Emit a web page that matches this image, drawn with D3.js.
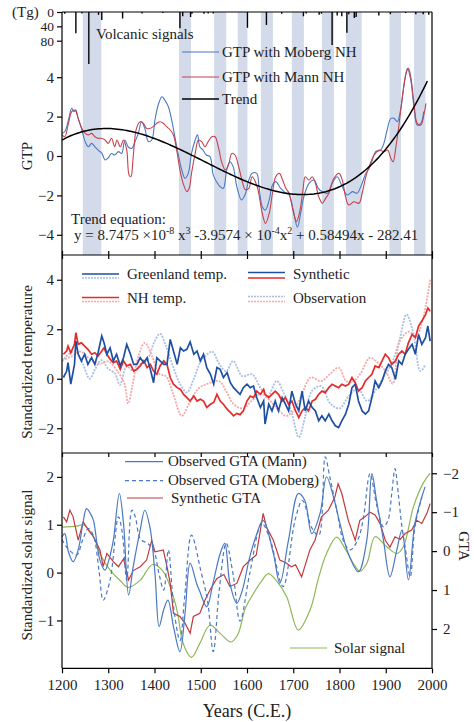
<!DOCTYPE html>
<html><head><meta charset="utf-8">
<script src="https://cdn.jsdelivr.net/npm/d3@7"></script>
<style>
html,body{margin:0;padding:0;background:#fff;}
svg text{font-family:"Liberation Serif","Times New Roman",Times,serif;fill:#222;}
</style></head>
<body><svg id="c" width="474" height="722"></svg>
<script>
// ---------------- DATA ----------------
// Top panel: volcanic loading (Tg)
const volcYears = [1206,1230,1243,1258,1279,1286,1331,1373,1418,1455,1461,1478,1481,1507,1516,1527,1601,1642,1675,1722,1728,1756,1761,1784,1795,1805,1816,1820,1832,1836,1885,1910,1943,1965,1981,1993];
const volcLoad  = [5,59,4,145,8,22,18,4,3,45,12,14,5,5,4,4,44,36,5,12,4,8,5,92,10,12,58,6,17,14,10,6,3,6,6,8];
// shaded periods
const bandStart = [1245,1453,1529,1580,1630,1697,1762,1814,1908,1961];
const bandEnd   = [1285,1479,1555,1601,1656,1723,1788,1848,1933,1986];
// GTP with Moberg NH
const mobYears = [1200,1206,1214,1221,1226,1230,1235,1243,1250,1257,1264,1271,1278,1286,1293,1300,1307,1314,1322,1329,1336,1343,1351,1358,1365,1372,1379,1387,1394,1401,1408,1416,1422,1430,1437,1444,1451,1459,1466,1473,1480,1488,1493,1498,1505,1512,1520,1527,1534,1542,1549,1556,1563,1570,1578,1588,1596,1604,1611,1621,1626,1633,1640,1648,1655,1662,1673,1684,1691,1700,1709,1716,1723,1734,1745,1754,1763,1774,1784,1795,1806,1817,1828,1838,1846,1857,1864,1871,1878,1889,1896,1903,1911,1918,1925,1932,1939,1947,1954,1961,1968,1976,1982];
const mobGTP   = [1.15,1.23,1.83,2.42,2.25,2.33,1.91,1.32,0.73,0.47,0.64,0.47,0.30,0.15,-0.2,-0.1,0.13,0.05,0.22,0.13,0.81,0.47,0.39,0.73,1.15,1.74,1.40,0.73,0.81,1.83,2.59,3.01,2.85,2.50,1.83,0.98,0.13,-0.71,-1.13,-0.88,0.13,0.81,1.07,0.47,0.30,0.05,-0.03,-0.96,-1.30,-1.56,-1.64,-0.71,-0.29,-0.54,-1.56,-2.23,-1.95,-1.22,-0.88,-0.88,-1.56,-2.57,-2.74,-2.23,-1.47,-1.30,-1.64,-1.89,-1.98,-2.74,-3.62,-2.91,-2.06,-1.39,-1.22,-1.64,-1.81,-1.89,-1.39,-1.05,-1.56,-1.98,-1.81,-1.89,-1.56,-0.88,-0.63,-0.20,0.22,0.30,0.64,1.32,1.91,1.91,1.74,2.33,3.52,4.45,3.86,2.50,1.57,1.66,2.25];
// GTP with Mann NH
const manYears = [1200,1206,1214,1221,1228,1235,1243,1250,1257,1264,1271,1278,1286,1293,1300,1307,1314,1319,1326,1333,1340,1345,1349,1354,1361,1369,1376,1383,1390,1397,1405,1412,1419,1426,1434,1441,1448,1455,1462,1470,1475,1480,1488,1495,1502,1509,1516,1524,1531,1538,1545,1553,1560,1567,1574,1582,1589,1596,1604,1611,1622,1633,1640,1648,1655,1662,1670,1677,1684,1691,1700,1707,1714,1721,1726,1734,1741,1748,1755,1763,1770,1777,1788,1799,1806,1813,1820,1831,1842,1849,1857,1864,1875,1886,1896,1904,1911,1916,1922,1929,1936,1944,1949,1954,1961,1968,1976,1983,1987];
const manGTP   = [1.07,0.98,1.66,2.25,2.33,1.91,1.40,1.15,1.07,1.15,0.98,0.90,0.90,0.81,0.64,0.90,0.47,0.81,0.47,0.81,0.30,-0.96,-1.05,-0.03,1.40,1.74,1.66,1.40,1.40,1.49,1.66,1.74,1.66,1.49,1.32,1.07,0.30,-0.71,-1.39,-1.81,-1.64,-0.88,0.13,0.81,0.73,0.47,0.73,0.98,0.98,0.47,-0.29,-0.71,-0.46,0.13,0.05,-0.54,-1.22,-1.70,-1.64,-1.05,-1.56,-2.91,-3.42,-2.91,-1.89,-1.05,-0.88,-1.22,-1.64,-1.89,-2.83,-3.33,-2.83,-1.72,-1.05,-1.22,-1.05,-1.39,-2.06,-2.40,-2.15,-1.89,-1.13,-0.88,-1.22,-2.06,-2.49,-2.32,-2.40,-1.89,-1.05,-0.54,0.05,0.30,0.22,0.30,-0.12,-0.29,0.47,1.66,3.01,4.20,4.45,4.03,2.67,1.66,1.57,2.16,2.67];
// Trend polynomial coefficients (as printed): a3, a2, a1, a0
const trendCoefs = [8.7475e-8, -3.9574e-4, 0.58494, -282.41];
const trendRange = [1200, 1990];
const gtpTicks = [4, 2, 0, -2, -4];
const volcTicks = [0, 40, 80];

// Middle panel: standardized temperature
const synYears = [1203,1210,1213,1219,1227,1230,1235,1242,1249,1256,1264,1271,1278,1286,1291,1297,1304,1311,1318,1326,1333,1340,1348,1355,1362,1369,1377,1384,1391,1398,1405,1412,1420,1427,1434,1441,1449,1456,1463,1470,1477,1485,1492,1499,1506,1513,1521,1528,1535,1542,1549,1557,1564,1571,1578,1585,1592,1600,1607,1614,1621,1629,1636,1639,1647,1654,1661,1668,1676,1683,1690,1697,1705,1712,1719,1726,1733,1741,1748,1755,1762,1769,1777,1784,1791,1798,1805,1813,1820,1827,1834,1841,1849,1856,1863,1870,1877,1885,1892,1899,1906,1913,1921,1928,1935,1942,1949,1957,1964,1971,1978,1986,1991,1996];
const grlSyn = [0.05,0.30,0.65,-0.22,0.58,1.52,0.99,0.72,0.99,0.58,0.85,0.58,1.05,1.73,1.45,0.99,1.25,0.72,0.99,0.52,0.85,1.39,0.99,0.58,0.58,0.85,0.65,0.85,0.38,-0.16,0.85,0.72,0.58,0.58,1.59,1.12,0.58,1.25,1.12,1.19,1.49,0.99,1.12,0.72,0.99,0.45,0.18,-0.22,0.45,0.38,0.05,0.25,-0.16,-0.36,-0.50,-0.63,-0.36,-0.22,-0.36,-0.29,-0.76,-1.16,-0.90,-1.83,-1.03,-1.30,-0.90,-1.30,-0.76,-1.03,-1.30,-0.50,-1.03,-1.30,-0.50,-1.30,-0.90,-1.16,-1.30,-1.70,-1.50,-1.70,-1.43,-1.70,-1.90,-1.97,-1.70,-1.43,-1.03,-0.36,-0.22,-0.90,-1.30,-1.43,-1.30,-0.76,-0.09,-0.36,-0.09,0.31,0.58,0.45,-0.02,0.72,0.58,0.99,1.19,1.39,0.99,1.79,1.39,1.66,2.13,1.52];
const nhSyn  = [0.99,1.12,1.32,1.05,1.39,1.86,1.39,1.45,1.32,1.19,0.99,1.05,0.92,1.12,1.25,0.99,0.79,0.65,0.72,0.38,0.72,0.52,0.58,0.31,0.38,0.52,0.72,0.45,0.58,0.31,0.18,0.52,0.72,0.58,0.05,-0.22,-0.36,-0.43,-0.63,-0.76,-0.90,-0.70,-0.90,-0.83,-0.90,-1.16,-1.03,-0.96,-0.63,-0.90,-1.03,-1.23,-1.36,-1.50,-1.40,-1.45,-1.30,-0.90,-0.70,-0.76,-0.50,-0.63,-0.43,-0.63,-0.76,-0.63,-0.50,-0.63,-0.90,-0.76,-1.03,-0.90,-1.30,-1.57,-1.30,-1.16,-1.30,-0.90,-0.83,-0.63,-0.50,-0.56,-0.36,-0.22,-0.29,-0.36,-0.22,-0.29,-0.22,0.05,-0.16,-0.50,-0.36,-0.09,0.05,0.18,0.52,0.45,0.72,0.99,0.85,0.58,0.72,0.99,1.12,0.99,1.45,1.79,1.66,2.13,2.33,2.59,2.86,2.73];
const grlObsYears = [1200,1215,1230,1245,1260,1272,1285,1300,1315,1325,1340,1355,1370,1385,1400,1412,1425,1440,1455,1470,1485,1500,1515,1525,1540,1555,1570,1590,1611,1630,1645,1664,1680,1697,1712,1725,1740,1760,1780,1800,1820,1840,1860,1880,1900,1915,1930,1945,1960,1975,1986];
const grlObs = [0.70,1.00,1.10,0.60,0.00,0.40,0.75,0.40,0.20,-0.25,0.50,0.30,0.60,0.80,1.50,1.82,1.30,0.50,-0.20,-0.55,0.00,0.70,1.00,1.10,0.60,0.30,0.72,0.10,0.18,-0.40,-0.70,-0.09,-0.60,-1.40,-2.37,-1.60,-0.50,-0.30,-1.00,-1.20,-0.70,-0.40,-0.90,-0.40,0.20,0.70,1.60,2.60,1.80,0.31,0.58];
const nhObsYears = [1200,1220,1240,1260,1280,1300,1320,1335,1343,1352,1365,1379,1395,1410,1425,1440,1459,1475,1495,1515,1540,1555,1570,1590,1610,1630,1650,1670,1685,1700,1715,1738,1760,1780,1798,1815,1830,1845,1866,1885,1900,1915,1930,1950,1965,1980,1996];
const nhObs = [0.75,0.90,1.10,0.80,0.60,0.70,0.30,-0.20,-1.00,-0.30,0.90,1.45,0.90,0.20,0.10,-0.60,-1.50,-1.00,-0.40,-0.20,-0.10,-0.50,-1.00,-1.20,-0.90,-0.60,-0.90,-1.30,-1.50,-1.30,-0.80,0.05,-0.10,0.20,0.45,-0.10,-0.10,0.20,0.85,0.60,0.30,-0.20,1.50,1.90,1.70,2.40,4.00];
const tempTicks = [4, 2, 0, -2];

// Bottom panel
const solarYears = [1200,1232,1246,1268,1282,1304,1325,1343,1369,1396,1419,1441,1450,1462,1480,1498,1520,1542,1565,1580,1596,1610,1630,1646,1666,1686,1711,1736,1755,1772,1794,1812,1830,1844,1859,1877,1902,1924,1938,1960,1981,1996];
const solar = [0.95,0.97,1.00,0.75,0.40,0.05,-0.16,-0.31,-0.16,0.17,0.02,-0.51,-0.85,-1.48,-1.77,-1.48,-1.10,-1.27,-1.45,-1.30,-0.75,-0.50,-0.20,-0.02,-0.20,-0.51,-1.20,-0.79,-0.10,0.40,0.74,0.50,0.19,0.03,0.19,0.75,0.54,0.40,0.54,1.38,1.87,2.08];
const mannYears = [1200,1206,1214,1224,1235,1245,1253,1262,1268,1282,1293,1302,1311,1324,1333,1344,1354,1369,1379,1390,1401,1410,1420,1429,1442,1455,1466,1477,1491,1498,1513,1527,1542,1552,1563,1578,1590,1605,1620,1635,1657,1671,1690,1711,1725,1740,1758,1772,1787,1801,1819,1841,1859,1870,1880,1895,1909,1924,1935,1949,1963,1978,1985];
const mannGTA = [-0.37,-0.45,0.02,0.27,-0.03,-0.70,-1.09,-0.95,-0.79,0.23,0.49,0.20,-0.28,-1.48,-0.71,1.13,0.40,-0.54,-1.05,-0.62,0.57,1.94,1.50,1.26,2.00,2.58,1.60,0.31,0.83,1.04,1.43,0.80,0.06,-0.20,0.83,1.34,1.00,0.20,-0.40,-0.79,0.06,0.83,-0.30,-1.48,-1.30,-0.45,-0.97,-1.91,-1.39,-0.71,0.06,0.53,-0.28,-1.99,-1.31,-0.28,0.66,-0.03,-0.54,0.74,-0.71,-1.39,-1.65];
const mobGTAYears = [1200,1210,1218,1232,1245,1257,1268,1280,1289,1304,1322,1330,1340,1351,1358,1370,1385,1398,1410,1420,1430,1442,1455,1465,1480,1500,1515,1527,1540,1555,1570,1585,1606,1632,1650,1678,1704,1720,1740,1755,1769,1779,1795,1808,1823,1840,1851,1866,1880,1895,1905,1913,1920,1927,1935,1942,1953,1963,1978];
const mobGTA = [-0.30,-0.10,0.00,0.10,-0.30,-0.58,-0.40,0.50,1.26,0.74,-0.88,-0.50,0.74,-1.05,-0.90,-0.30,-0.20,-0.03,0.60,1.00,-0.03,1.50,2.30,1.20,-0.41,0.50,1.30,2.58,1.00,-0.20,0.60,1.80,0.57,-0.71,-0.30,0.91,-0.80,-1.30,-0.60,-0.40,-2.42,-1.91,-1.00,-0.28,-0.03,-0.30,-0.80,-1.99,-1.20,-0.62,-0.80,-1.48,-2.12,-1.48,-0.62,-0.10,0.66,-0.62,-1.39];
const synGTAYears = [1203,1210,1217,1224,1235,1246,1257,1268,1282,1289,1297,1311,1322,1333,1344,1354,1369,1383,1394,1401,1419,1427,1434,1441,1455,1466,1477,1484,1498,1509,1520,1535,1550,1563,1578,1592,1607,1620,1635,1642,1657,1671,1684,1696,1705,1718,1736,1747,1761,1776,1790,1797,1805,1819,1834,1844,1855,1866,1877,1888,1899,1909,1920,1931,1942,1956,1967,1978,1989,1996];
const synGTA = [-0.88,-0.75,-1.05,-0.88,-0.28,-0.75,-0.54,-0.37,-0.03,0.40,0.06,0.27,0.40,0.20,0.74,0.50,0.40,0.23,-0.28,0.02,-0.03,0.40,0.83,1.60,1.68,1.85,2.11,1.68,1.60,1.26,1.00,0.70,0.60,0.91,0.83,0.40,0.23,0.10,-0.97,-0.62,-0.28,0.23,0.30,0.40,0.35,0.66,-0.03,-0.28,-0.88,-1.05,-1.39,-1.73,-1.48,-0.79,-0.28,-0.79,-0.88,-1.00,-0.93,-0.70,-0.28,-0.10,-0.37,-0.30,-0.45,-0.54,-0.79,-0.71,-0.97,-1.22];
const solarTicks = [2, 1, 0, -1];
const gtaTicks = [-2, -1, 0, 1, 2];
const yearTicks = [1200,1300,1400,1500,1600,1700,1800,1900,2000];

// ---------------- DRAW ----------------
const svg = d3.select("#c");
const L = 62, R = 432;
const x = d3.scaleLinear().domain([1200, 2000]).range([L, R]);

const topY0 = 12, topY1 = 255, midY1 = 453, botY1 = 668.3;
const yGTP = d3.scaleLinear().domain([-5, 4]).range([254.5, 77.2]);
const yVol = d3.scaleLinear().domain([0, 80]).range([topY0, 40.7]);
const yTemp = d3.scaleLinear().domain([-3, 5]).range([midY1, topY1]);
const ySol = d3.scaleLinear().domain([-2, 2.5]).range([botY1, midY1]);
const yGTA = d3.scaleLinear().domain([-2.52, 3.01]).range([midY1, botY1]);

const FS = 15;
// bands
svg.append("g").selectAll("rect").data(bandStart).join("rect")
  .attr("x", (d) => x(d)).attr("width", (d, i) => x(bandEnd[i]) - x(d))
  .attr("y", topY0).attr("height", topY1 - topY0)
  .attr("fill", "#d3dbea");

// volcanic bars
svg.append("g").selectAll("line").data(volcYears).join("line")
  .attr("x1", (d) => x(d)).attr("x2", (d) => x(d))
  .attr("y1", topY0).attr("y2", (d, i) => yVol(volcLoad[i]))
  .attr("stroke", "#000").attr("stroke-width", 1.4);

function pts(xs, ys) { return xs.map((d, i) => [d, ys[i]]); }

const lineTop = (ys) => d3.line().x((d) => x(d[0])).y((d) => ys(d[1])).curve(d3.curveCatmullRom.alpha(0.5));
svg.append("path").attr("d", lineTop(yGTP)(pts(mobYears, mobGTP)))
  .attr("fill", "none").attr("stroke", "#4a78c4").attr("stroke-width", 1.1);
svg.append("path").attr("d", lineTop(yGTP)(pts(manYears, manGTP)))
  .attr("fill", "none").attr("stroke", "#c4424c").attr("stroke-width", 1.1);
// trend (from printed equation)
const trendYears = d3.range(trendRange[0], trendRange[1] + 1, 5);
const trendVals = trendYears.map((t) => trendCoefs[0] * t * t * t + trendCoefs[1] * t * t + trendCoefs[2] * t + trendCoefs[3]);
svg.append("path").attr("d", d3.line().x((d) => x(d[0])).y((d) => yGTP(d[1]))(pts(trendYears, trendVals)))
  .attr("fill", "none").attr("stroke", "#000").attr("stroke-width", 1.5);

// middle panel lines
const lineLin = (ys) => d3.line().x((d) => x(d[0])).y((d) => ys(d[1]));
const lineSm = (ys) => d3.line().x((d) => x(d[0])).y((d) => ys(d[1])).curve(d3.curveCatmullRom.alpha(0.5));
svg.append("path").attr("d", lineSm(yTemp)(pts(grlObsYears, grlObs)))
  .attr("fill", "none").attr("stroke", "#a9bfe3").attr("stroke-width", 1.8).attr("stroke-dasharray", "2,1.2");
svg.append("path").attr("d", lineSm(yTemp)(pts(nhObsYears, nhObs)))
  .attr("fill", "none").attr("stroke", "#f5a9a9").attr("stroke-width", 1.8).attr("stroke-dasharray", "2,1.2");
svg.append("path").attr("d", lineLin(yTemp)(pts(synYears, nhSyn)))
  .attr("fill", "none").attr("stroke", "#e52a2a").attr("stroke-width", 1.7);
svg.append("path").attr("d", lineLin(yTemp)(pts(synYears, grlSyn)))
  .attr("fill", "none").attr("stroke", "#1e4fa3").attr("stroke-width", 1.7);

// bottom panel lines
svg.append("path").attr("d", lineSm(ySol)(pts(solarYears, solar)))
  .attr("fill", "none").attr("stroke", "#8fb757").attr("stroke-width", 1.2);
svg.append("path").attr("d", lineLin(yGTA)(pts(synGTAYears, synGTA)))
  .attr("fill", "none").attr("stroke", "#c0393d").attr("stroke-width", 1.2);
svg.append("path").attr("d", lineSm(yGTA)(pts(mobGTAYears, mobGTA)))
  .attr("fill", "none").attr("stroke", "#4a78c4").attr("stroke-width", 1.2).attr("stroke-dasharray", "4,3");
svg.append("path").attr("d", lineSm(yGTA)(pts(mannYears, mannGTA)))
  .attr("fill", "none").attr("stroke", "#4a78c4").attr("stroke-width", 1.2);

// ---------------- AXES ----------------
const ax = svg.append("g").attr("stroke", "#000").attr("stroke-width", 1.2);
ax.append("line").attr("x1", L).attr("x2", L).attr("y1", topY0).attr("y2", botY1);
ax.append("line").attr("x1", R).attr("x2", R).attr("y1", topY0).attr("y2", botY1);
ax.append("line").attr("x1", L).attr("x2", R).attr("y1", topY0).attr("y2", topY0);
ax.append("line").attr("x1", L).attr("x2", R).attr("y1", topY1).attr("y2", topY1);
ax.append("line").attr("x1", L).attr("x2", R).attr("y1", midY1).attr("y2", midY1);
ax.append("line").attr("x1", L).attr("x2", R).attr("y1", botY1).attr("y2", botY1);

function styleAxis(g, fs) {
  g.select(".domain").remove();
  g.selectAll(".tick line").attr("stroke", "#000").attr("stroke-width", 1.2);
  g.selectAll(".tick text").attr("font-size", fs || FS).attr("fill", "#222")
    .attr("font-family", '"Liberation Serif","Times New Roman",serif');
}
svg.append("g").attr("transform", `translate(${L},0)`)
  .call(d3.axisLeft(yVol).tickValues(volcTicks).tickSize(5).tickPadding(3)).call((g) => styleAxis(g, 13.5));
svg.append("g").attr("transform", `translate(${L},0)`)
  .call(d3.axisLeft(yGTP).tickValues(gtpTicks).tickSize(5).tickPadding(3).tickFormat(d3.format("d"))).call((g) => styleAxis(g));
svg.append("g").attr("transform", `translate(${L},0)`)
  .call(d3.axisLeft(yTemp).tickValues(tempTicks).tickSize(5).tickPadding(3).tickFormat(d3.format("d"))).call((g) => styleAxis(g));
svg.append("g").attr("transform", `translate(${L},0)`)
  .call(d3.axisLeft(ySol).tickValues(solarTicks).tickSize(5).tickPadding(3).tickFormat(d3.format("d"))).call((g) => styleAxis(g));
svg.append("g").attr("transform", `translate(${R},0)`)
  .call(d3.axisRight(yGTA).tickValues(gtaTicks).tickSize(5).tickPadding(6).tickFormat(d3.format("d"))).call((g) => styleAxis(g));
svg.append("g").attr("transform", `translate(0,${botY1})`)
  .call(d3.axisBottom(x).tickValues(yearTicks).tickSize(5).tickPadding(6).tickFormat(d3.format("d"))).call((g) => styleAxis(g));
svg.append("g").attr("transform", `translate(0,${topY1})`)
  .call(d3.axisTop(x).tickValues(yearTicks).tickSize(4).tickFormat("")).call((g) => styleAxis(g));
svg.append("g").attr("transform", `translate(0,${topY1})`)
  .call(d3.axisBottom(x).tickValues(yearTicks).tickSize(4).tickFormat("")).call((g) => styleAxis(g));
svg.append("g").attr("transform", `translate(0,${midY1})`)
  .call(d3.axisBottom(x).tickValues(yearTicks).tickSize(4).tickFormat("")).call((g) => styleAxis(g));

// ---------------- TEXT ----------------
function txt(s, xx, yy, opts = {}) {
  const t = svg.append("text").attr("x", xx).attr("y", yy).attr("font-size", opts.fs || FS).text(s);
  if (opts.anchor) t.attr("text-anchor", opts.anchor);
  if (opts.rot) t.attr("transform", `rotate(${opts.rot},${xx},${yy})`);
  return t;
}
txt("(Tg)", 12, 17);
txt("Volcanic signals", 96, 39);
txt("GTP", 32, 156, { rot: -90, anchor: "middle" });
txt("Standardized temperature", 32, 362, { rot: -90, anchor: "middle" });
txt("Standardized solar signal", 32, 565, { rot: -90, anchor: "middle" });
txt("GTA", 459, 546, { rot: 90, anchor: "middle" });
txt("Years (C.E.)", 247, 717, { fs: 18, anchor: "middle" });
txt("Trend equation:", 71, 224);
const eq = svg.append("text").attr("x", 74).attr("y", 240).attr("font-size", FS);
eq.append("tspan").text("y = 8.7475 \u00d710");
eq.append("tspan").attr("dy", -6).attr("font-size", 10).text("-8");
eq.append("tspan").attr("dy", 6).text(" x");
eq.append("tspan").attr("dy", -6).attr("font-size", 10).text("3");
eq.append("tspan").attr("dy", 6).text(" -3.9574 \u00d7 10");
eq.append("tspan").attr("dy", -6).attr("font-size", 10).text("-4");
eq.append("tspan").attr("dy", 6).text("x");
eq.append("tspan").attr("dy", -6).attr("font-size", 10).text("2");
eq.append("tspan").attr("dy", 6).text(" + 0.58494x - 282.41");

function legLine(x1, x2, yy, color, w, dash) {
  const l = svg.append("line").attr("x1", x1).attr("x2", x2).attr("y1", yy).attr("y2", yy)
    .attr("stroke", color).attr("stroke-width", w);
  if (dash) l.attr("stroke-dasharray", dash);
}
legLine(182, 219, 52, "#4a78c4", 1.2); txt("GTP with Moberg NH", 222, 57);
legLine(182, 219, 77, "#c4424c", 1.2); txt("GTP with Mann NH", 222, 82);
legLine(182, 219, 99, "#000", 1.5); txt("Trend", 222, 104);

legLine(82, 119, 274, "#1e4fa3", 1.7); legLine(82, 119, 278, "#a9bfe3", 1.5, "2,1");
txt("Greenland temp.", 127, 279);
legLine(82, 119, 297.5, "#e52a2a", 1.7); legLine(82, 119, 301.5, "#f5a9a9", 1.5, "2,1");
txt("NH temp.", 127, 303);
legLine(248, 285, 272.5, "#1e4fa3", 1.7); legLine(248, 285, 278, "#e52a2a", 1.7);
txt("Synthetic", 293, 279);
legLine(248, 285, 296.5, "#a9bfe3", 1.5, "2,1"); legLine(248, 285, 301.5, "#f5a9a9", 1.5, "2,1");
txt("Observation", 293, 303);

legLine(125, 163, 461.7, "#4a78c4", 1.2); txt("Observed GTA (Mann)", 168, 466);
legLine(125, 163, 480.7, "#4a78c4", 1.2, "4,3"); txt("Observed GTA (Moberg)", 168, 485);
legLine(127, 163, 498, "#c0393d", 1.2); txt("Synthetic GTA", 171, 503);
legLine(290, 327, 648, "#8fb757", 1.2); txt("Solar signal", 334, 653);
</script></body></html>
